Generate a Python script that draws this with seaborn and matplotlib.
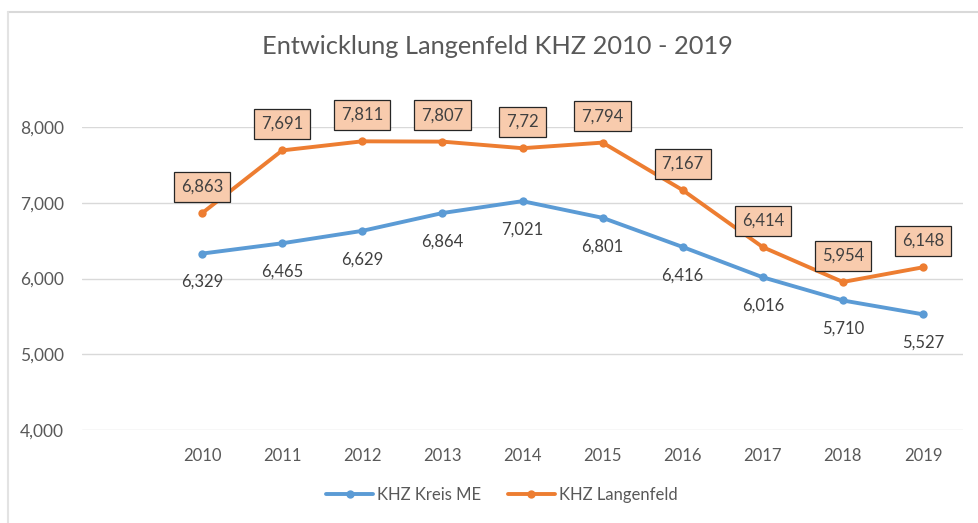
import matplotlib
matplotlib.use("Agg")
import matplotlib.pyplot as plt
from matplotlib.lines import Line2D
import pandas as pd
import seaborn as sns

years = [2010, 2011, 2012, 2013, 2014, 2015, 2016, 2017, 2018, 2019]
kreis_me = [6329, 6465, 6629, 6864, 7021, 6801, 6416, 6016, 5710, 5527]
langenfeld = [6863, 7691, 7811, 7807, 7720, 7794, 7167, 6414, 5954, 6148]
langenfeld_labels = ["6,863", "7,691", "7,811", "7,807", "7,72", "7,794",
                     "7,167", "6,414", "5,954", "6,148"]
y_ticks = [4000, 5000, 6000, 7000, 8000]

BLUE = "#5B9BD5"
ORANGE = "#ED7D31"
TEXT = "#595959"
LABEL = "#404040"

sns.set_style("white")
plt.rcParams["font.family"] = ["Lato", "DejaVu Sans"]

df = pd.DataFrame({
    "year": years * 2,
    "value": kreis_me + langenfeld,
    "series": ["KHZ Kreis ME"] * len(years) + ["KHZ Langenfeld"] * len(years),
})

fig = plt.figure(figsize=(9.79, 5.23), dpi=100)
ax = fig.add_axes([82 / 979, 1 - 430 / 523, (963 - 82) / 979, (430 - 127) / 523])

sns.lineplot(data=df, x="year", y="value", hue="series",
             palette={"KHZ Kreis ME": BLUE, "KHZ Langenfeld": ORANGE},
             marker="o", markersize=6, markeredgewidth=0, linewidth=2.8,
             legend=False, ax=ax, zorder=3)

# data labels
for x, v in zip(years, kreis_me):
    ax.annotate(f"{v:,}", (x, v), xytext=(0, -20.5), textcoords="offset points",
                ha="center", va="center", fontsize=12, color=LABEL,
                annotation_clip=False)
for x, v, lab in zip(years, langenfeld, langenfeld_labels):
    ax.annotate(lab, (x, v), xytext=(0, 19), textcoords="offset points",
                ha="center", va="center", fontsize=12, color=LABEL,
                annotation_clip=False, zorder=5,
                bbox=dict(boxstyle="square,pad=0.42", fc="#F8CBAD",
                          ec="#262626", lw=0.9))

ax.set_xlim(2008.5, 2019.5)
ax.set_ylim(4000, 8000)
ax.set_xticks(years)
ax.set_xticklabels([str(y) for y in years])
ax.set_yticks(y_ticks)
ax.set_yticklabels([f"{t:,}" for t in y_ticks])
ax.tick_params(axis="y", length=0, pad=13, labelsize=12.5, labelcolor=TEXT)
ax.tick_params(axis="x", length=0, pad=13, labelsize=12, labelcolor=TEXT)
ax.set_xlabel("")
ax.set_ylabel("")
ax.grid(axis="y", color="#D9D9D9", linewidth=1)
ax.grid(axis="x", visible=False)
for s in ax.spines.values():
    s.set_visible(False)
ax.patch.set_alpha(0)

fig.text(497 / 979, 1 - 47 / 523, "Entwicklung Langenfeld KHZ 2010 - 2019",
         ha="center", va="center", fontsize=18.3, color=TEXT)

handles = [
    Line2D([], [], color=BLUE, lw=2.8, marker="o", markersize=6, markeredgewidth=0),
    Line2D([], [], color=ORANGE, lw=2.8, marker="o", markersize=6, markeredgewidth=0),
]
fig.legend(handles, ["KHZ Kreis ME", "KHZ Langenfeld"], loc="center",
           bbox_to_anchor=(502 / 979, 1 - 495 / 523), ncol=2, frameon=False,
           fontsize=12, labelcolor=TEXT, handlelength=2.8, handletextpad=0.25,
           columnspacing=1.6)

# chart frame (top and left edges visible in the screenshot)
fig.add_artist(Line2D([8 / 979, 1], [1 - 12 / 523, 1 - 12 / 523],
                      transform=fig.transFigure, color="#D9D9D9", lw=1.5))
fig.add_artist(Line2D([8 / 979, 8 / 979], [0, 1 - 12 / 523],
                      transform=fig.transFigure, color="#E3E3E3", lw=1.5))

fig.savefig("out.png", dpi=100)
